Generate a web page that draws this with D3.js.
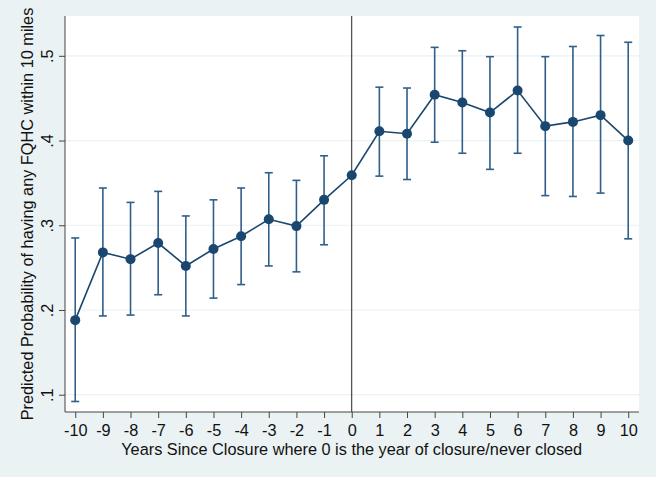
<!DOCTYPE html>
<html><head><meta charset="utf-8">
<script src="https://cdn.jsdelivr.net/npm/d3@7"></script>
<style>html,body{margin:0;padding:0;background:#eaf2f3;}svg{display:block;}</style>
</head><body>
<svg id="chart" width="656" height="477"></svg>
<script>
const years = [-10,-9,-8,-7,-6,-5,-4,-3,-2,-1,0,1,2,3,4,5,6,7,8,9,10];
const estimate = [0.188,0.268,0.260,0.279,0.252,0.272,0.287,0.307,0.299,0.330,0.359,0.411,0.408,0.454,0.445,0.433,0.459,0.417,0.422,0.430,0.400];
const lower = [0.092,0.193,0.194,0.218,0.193,0.214,0.230,0.252,0.245,0.277,null,0.358,0.354,0.398,0.385,0.366,0.385,0.335,0.334,0.338,0.284];
const upper = [0.285,0.344,0.327,0.340,0.311,0.330,0.344,0.362,0.353,0.382,null,0.463,0.462,0.510,0.506,0.499,0.534,0.499,0.511,0.524,0.516];
const yTicks = [0.1,0.2,0.3,0.4,0.5];
const yTickLabels = [".1",".2",".3",".4",".5"];
const xTitle = "Years Since Closure where 0 is the year of closure/never closed";
const yTitle = "Predicted Probability of having any FQHC within 10 miles";

const svg = d3.select("#chart");
const W = 656, H = 477;
const m = {left:65, top:16, right:17, bottom:65};
const pw = W - m.left - m.right, ph = H - m.top - m.bottom;
const x = d3.scaleLinear().domain([-10.37, 10.39]).range([m.left, m.left + pw]);
const y = d3.scaleLinear().domain([0.0796, 0.547]).range([m.top + ph, m.top]);
const font = "'Liberation Sans', Arial, Helvetica, sans-serif";
const fs = 16.3;

svg.append("rect").attr("width", W).attr("height", H).attr("fill", "#eaf2f3");
svg.append("rect").attr("x", m.left).attr("y", m.top).attr("width", pw).attr("height", ph).attr("fill", "#fff");

// gridlines
svg.append("g").selectAll("line").data(yTicks).join("line")
  .attr("x1", m.left).attr("x2", m.left + pw)
  .attr("y1", d => y(d)).attr("y2", d => y(d))
  .attr("stroke", "#eaf2f3").attr("stroke-width", 1.2);

// vertical line at 0
svg.append("line").attr("x1", x(0)).attr("x2", x(0)).attr("y1", m.top).attr("y2", m.top + ph)
  .attr("stroke", "#222").attr("stroke-width", 1);

// axes
const yAxis = d3.axisLeft(y).tickValues(yTicks).tickFormat((d, i) => yTickLabels[i]).tickSize(6).tickPadding(4);
const gy = svg.append("g").attr("transform", `translate(${m.left},0)`).call(yAxis);
gy.select(".domain").attr("d", `M0,${m.top}V${m.top + ph}`).attr("stroke", "#444");
gy.selectAll(".tick line").attr("stroke", "#444");
gy.selectAll(".tick text").attr("font-family", font).attr("font-size", fs).attr("fill", "#111")
  .attr("x", 0).attr("dy", null)
  .attr("text-anchor", "middle")
  .attr("transform", "translate(-12,0) rotate(-90)");

const xAxis = d3.axisBottom(x).tickValues(years).tickFormat(d => String(d)).tickSize(6).tickPadding(6.5);
const gx = svg.append("g").attr("transform", `translate(0,${m.top + ph})`).call(xAxis);
gx.select(".domain").attr("d", `M${m.left},0H${m.left + pw}`).attr("stroke", "#444");
gx.selectAll(".tick line").attr("stroke", "#444");
gx.selectAll(".tick text").attr("font-family", font).attr("font-size", fs).attr("fill", "#111");

// titles
svg.append("text").attr("x", (x(-10) + x(10)) / 2).attr("y", 454.6).attr("text-anchor", "middle")
  .attr("font-family", font).attr("font-size", fs).attr("fill", "#111").text(xTitle);
svg.append("text").attr("transform", `translate(33,${m.top + ph / 2}) rotate(-90)`).attr("text-anchor", "middle")
  .attr("font-family", font).attr("font-size", fs).attr("fill", "#111").text(yTitle);

const data = years.map((yr, i) => ({yr, est: estimate[i], lo: lower[i], hi: upper[i]}));
const ci = data.filter(d => d.lo != null);
const color = "#1a476f";
const ciColor = "#2f5f8a";

const g = svg.append("g");
g.selectAll("line.ci").data(ci).join("line").attr("class", "ci")
  .attr("x1", d => x(d.yr)).attr("x2", d => x(d.yr))
  .attr("y1", d => y(d.lo)).attr("y2", d => y(d.hi))
  .attr("stroke", ciColor).attr("stroke-width", 1.6);
["lo", "hi"].forEach(k => {
  g.selectAll("line.cap" + k).data(ci).join("line").attr("class", "cap" + k)
    .attr("x1", d => x(d.yr) - 4).attr("x2", d => x(d.yr) + 4)
    .attr("y1", d => y(d[k])).attr("y2", d => y(d[k]))
    .attr("stroke", ciColor).attr("stroke-width", 1.6);
});

g.append("path").datum(data)
  .attr("d", d3.line().x(d => x(d.yr)).y(d => y(d.est)))
  .attr("fill", "none").attr("stroke", color).attr("stroke-width", 1.6);
g.selectAll("circle").data(data).join("circle")
  .attr("cx", d => x(d.yr)).attr("cy", d => y(d.est)).attr("r", 5)
  .attr("fill", color);
</script>
</body></html>
